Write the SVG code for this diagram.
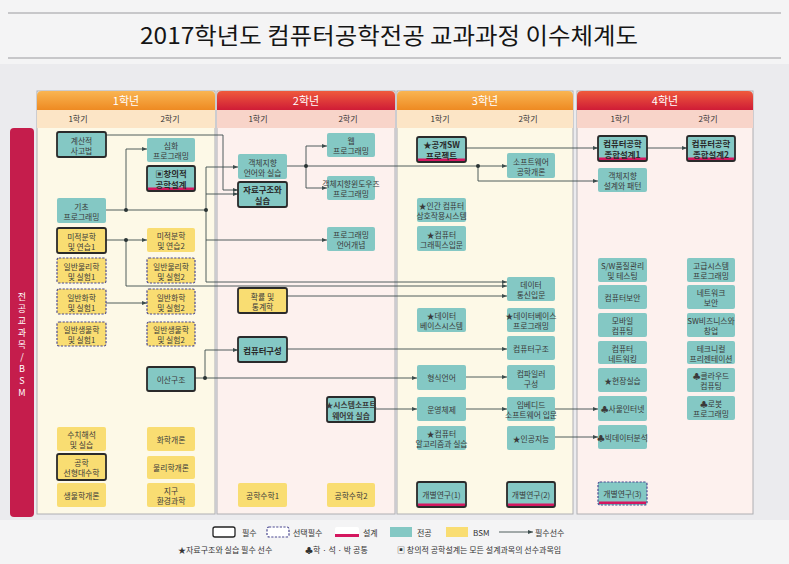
<svg xmlns="http://www.w3.org/2000/svg" width="789" height="564" viewBox="0 0 789 564">
<defs>
<linearGradient id="gOr" x1="0" y1="0" x2="0" y2="1"><stop offset="0" stop-color="#f9b552"/><stop offset="1" stop-color="#ee8a22"/></linearGradient>
<linearGradient id="gRd" x1="0" y1="0" x2="0" y2="1"><stop offset="0" stop-color="#ef5a3c"/><stop offset="1" stop-color="#cf1c36"/></linearGradient>
<marker id="ah" markerUnits="userSpaceOnUse" markerWidth="5" markerHeight="4" refX="5" refY="2" orient="auto"><path d="M0,0 L5,2 L0,4 Z" fill="#3c4d4d"/></marker>
<style>
.t{fill:#84c8c4}
.y{fill:#f9dd72}
.w{fill:#ffffff}
.r{stroke:#2a2a2a;stroke-width:1.8}
.s{stroke:#4a4890;stroke-width:1.2;stroke-dasharray:2.2 1.4}
.o{fill:none}
.d{fill:#d4175f}
text{font-family:"Noto Sans CJK KR","Noto Sans",sans-serif}
.n{font-size:7.8px;fill:#3a3a3a;text-anchor:middle;dominant-baseline:central}
.nb{font-size:8.4px;font-weight:700;fill:#2a2a2a}
.ys{font-size:11px;fill:#ffffff;text-anchor:middle}
.sm{font-size:8px;fill:#333;text-anchor:middle}
.lg{font-size:8px;fill:#333;dominant-baseline:central}
.cn{fill:none;stroke:#3c4d4d;stroke-width:0.9}
.dot{fill:#2a3434}
.sb{font-size:9px;fill:#ffffff;text-anchor:middle}
</style>
</defs>
<rect x="0" y="0" width="789" height="564" fill="#f4f4f5"/>
<rect x="0" y="64" width="789" height="456" fill="#ebebee"/>
<line x1="8" y1="13" x2="781" y2="13" stroke="#9a9a9e" stroke-width="1"/>
<line x1="8" y1="58" x2="781" y2="58" stroke="#9a9a9e" stroke-width="1"/>
<text x="389" y="44" font-size="23" fill="#151515" text-anchor="middle" textLength="498" lengthAdjust="spacingAndGlyphs">2017학년도 컴퓨터공학전공 교과과정 이수체계도</text>

<g id="sidebar">
<rect x="10" y="128" width="24" height="389" rx="4" fill="#c51d4c"/>
<text class="sb" x="22" y="300">전</text>
<text class="sb" x="22" y="312">공</text>
<text class="sb" x="22" y="324">교</text>
<text class="sb" x="22" y="336">과</text>
<text class="sb" x="22" y="348">목</text>
<text class="sb" x="22" y="360">/</text>
<text class="sb" x="22" y="372">B</text>
<text class="sb" x="22" y="384">S</text>
<text class="sb" x="22" y="396">M</text>
</g>

<g id="year1">
<rect x="37" y="91" width="178" height="423" fill="#fdf9e7" stroke="#aeaeb2"/>
<path d="M37,110 V96 Q37,91 42,91 H210 Q215,91 215,96 V110 Z" fill="url(#gOr)"/>
<rect x="37" y="110" width="178" height="18" fill="#fce5c6"/>
<text class="ys" x="126" y="105">1학년</text>
<text class="sm" x="78" y="122">1학기</text>
<text class="sm" x="170" y="122">2학기</text>
</g>
<g id="year2">
<rect x="217" y="91" width="178" height="423" fill="#fdf1ee" stroke="#aeaeb2"/>
<path d="M217,110 V96 Q217,91 222,91 H390 Q395,91 395,96 V110 Z" fill="url(#gRd)"/>
<rect x="217" y="110" width="178" height="18" fill="#f8d4c9"/>
<text class="ys" x="306" y="105">2학년</text>
<text class="sm" x="258" y="122">1학기</text>
<text class="sm" x="348" y="122">2학기</text>
</g>
<g id="year3">
<rect x="397" y="91" width="176" height="423" fill="#fdf9e7" stroke="#aeaeb2"/>
<path d="M397,110 V96 Q397,91 402,91 H568 Q573,91 573,96 V110 Z" fill="url(#gOr)"/>
<rect x="397" y="110" width="176" height="18" fill="#fce5c6"/>
<text class="ys" x="485" y="105">3학년</text>
<text class="sm" x="440" y="122">1학기</text>
<text class="sm" x="528" y="122">2학기</text>
</g>
<g id="year4">
<rect x="577" y="91" width="176" height="423" fill="#fdf1ee" stroke="#aeaeb2"/>
<path d="M577,110 V96 Q577,91 582,91 H748 Q753,91 753,96 V110 Z" fill="url(#gRd)"/>
<rect x="577" y="110" width="176" height="18" fill="#f8d4c9"/>
<text class="ys" x="665" y="105">4학년</text>
<text class="sm" x="620" y="122">1학기</text>
<text class="sm" x="708" y="122">2학기</text>
</g>

<g id="connectors">
<path class="cn" marker-end="url(#ah)" d="M106,135 H223 V190 H238"/>
<path class="cn" d="M106,210 H206"/>
<path class="cn" marker-end="url(#ah)" d="M126,210 V149 H147"/>
<path class="cn" marker-end="url(#ah)" d="M206,282 V167 H238"/>
<path class="cn" marker-end="url(#ah)" d="M206,194 H238"/>
<path class="cn" marker-end="url(#ah)" d="M206,240 H327"/>
<path class="cn" marker-end="url(#ah)" d="M206,282 H507"/>
<path class="cn" marker-end="url(#ah)" d="M106,240 H147"/>
<path class="cn" marker-end="url(#ah)" d="M126,240 V286 H507"/>
<path class="cn" marker-end="url(#ah)" d="M287,296 H507"/>
<path class="cn" marker-end="url(#ah)" d="M106,303 H147"/>
<path class="cn" marker-end="url(#ah)" d="M195,378 H417"/>
<path class="cn" marker-end="url(#ah)" d="M205,378 V350 H238"/>
<path class="cn" marker-end="url(#ah)" d="M287,349 H507"/>
<path class="cn" marker-end="url(#ah)" d="M466,377 H507"/>
<path class="cn" marker-end="url(#ah)" d="M375,409 H417"/>
<path class="cn" marker-end="url(#ah)" d="M466,409 H507"/>
<path class="cn" marker-end="url(#ah)" d="M555,409 H598"/>
<path class="cn" marker-end="url(#ah)" d="M555,437 H598"/>
<path class="cn" marker-end="url(#ah)" d="M287,166 H507"/>
<path class="cn" marker-end="url(#ah)" d="M306,166 V146 H327"/>
<path class="cn" marker-end="url(#ah)" d="M306,166 V188 H327"/>
<path class="cn" marker-end="url(#ah)" d="M478,166 V181 H598"/>
<path class="cn" marker-end="url(#ah)" d="M466,148 H598"/>
<path class="cn" marker-end="url(#ah)" d="M647,148 H687"/>
<circle class="dot" cx="126" cy="210" r="2"/>
<circle class="dot" cx="206" cy="210" r="2"/>
<circle class="dot" cx="126" cy="240" r="2"/>
<circle class="dot" cx="205" cy="378" r="2"/>
<circle class="dot" cx="306" cy="166" r="2"/>
<circle class="dot" cx="478" cy="166" r="2"/>
</g>

<g id="n1"><rect class="t r" x="57" y="132" width="49" height="25" rx="2"/><text class="n"><tspan x="81.5" y="139.5">계산적</tspan><tspan x="81.5" y="149.5">사고법</tspan></text></g>
<g id="n2"><rect class="t" x="147" y="138" width="48" height="24" rx="2"/><text class="n"><tspan x="171" y="145">심화</tspan><tspan x="171" y="155">프로그래밍</tspan></text></g>
<g id="n3"><rect class="t" x="147" y="166" width="48" height="25" rx="2"/><rect class="d" x="148" y="187.5" width="46" height="2.5"/><rect class="o r" x="147" y="166" width="48" height="25" rx="2"/><text class="n nb"><tspan x="171" y="173">▣창의적</tspan><tspan x="171" y="184">공학설계</tspan></text></g>
<g id="n4"><rect class="t" x="57" y="198" width="49" height="25" rx="2"/><text class="n"><tspan x="81.5" y="205.5">기초</tspan><tspan x="81.5" y="215.5">프로그래밍</tspan></text></g>
<g id="n5"><rect class="y r" x="57" y="228" width="49" height="25" rx="2"/><text class="n"><tspan x="81.5" y="235.5">미적분학</tspan><tspan x="81.5" y="245.5">및 연습1</tspan></text></g>
<g id="n6"><rect class="y" x="147" y="228" width="48" height="24" rx="2"/><text class="n"><tspan x="171" y="235">미적분학</tspan><tspan x="171" y="245">및 연습2</tspan></text></g>
<g id="n7"><rect class="y s" x="57" y="258" width="49" height="25" rx="2"/><text class="n"><tspan x="81.5" y="265.5">일반물리학</tspan><tspan x="81.5" y="275.5">및 실험1</tspan></text></g>
<g id="n8"><rect class="y s" x="147" y="258" width="48" height="25" rx="2"/><text class="n"><tspan x="171" y="265.5">일반물리학</tspan><tspan x="171" y="275.5">및 실험2</tspan></text></g>
<g id="n9"><rect class="y s" x="57" y="289" width="49" height="25" rx="2"/><text class="n"><tspan x="81.5" y="296.5">일반화학</tspan><tspan x="81.5" y="306.5">및 실험1</tspan></text></g>
<g id="n10"><rect class="y s" x="147" y="289" width="48" height="25" rx="2"/><text class="n"><tspan x="171" y="296.5">일반화학</tspan><tspan x="171" y="306.5">및 실험2</tspan></text></g>
<g id="n11"><rect class="y s" x="57" y="322" width="49" height="24" rx="2"/><text class="n"><tspan x="81.5" y="329">일반생물학</tspan><tspan x="81.5" y="339">및 실험1</tspan></text></g>
<g id="n12"><rect class="y s" x="147" y="322" width="48" height="24" rx="2"/><text class="n"><tspan x="171" y="329">일반생물학</tspan><tspan x="171" y="339">및 실험2</tspan></text></g>
<g id="n13"><rect class="t r" x="147" y="367" width="48" height="24" rx="2"/><text class="n" x="171" y="379">이산구조</text></g>
<g id="n14"><rect class="y" x="57" y="427" width="49" height="24" rx="2"/><text class="n"><tspan x="81.5" y="434">수치해석</tspan><tspan x="81.5" y="444">및 실습</tspan></text></g>
<g id="n15"><rect class="y r" x="57" y="454" width="49" height="26" rx="2"/><text class="n"><tspan x="81.5" y="462">공학</tspan><tspan x="81.5" y="472">선형대수학</tspan></text></g>
<g id="n16"><rect class="y" x="57" y="483" width="49" height="24" rx="2"/><text class="n" x="81.5" y="495">생물학개론</text></g>
<g id="n17"><rect class="y" x="147" y="427" width="48" height="24" rx="2"/><text class="n" x="171" y="439">화학개론</text></g>
<g id="n18"><rect class="y" x="147" y="456" width="48" height="23" rx="2"/><text class="n" x="171" y="467.5">물리학개론</text></g>
<g id="n19"><rect class="y" x="147" y="483" width="48" height="24" rx="2"/><text class="n"><tspan x="171" y="490">지구</tspan><tspan x="171" y="500">환경과학</tspan></text></g>

<g id="n20"><rect class="t" x="327" y="133" width="48" height="24" rx="2"/><text class="n"><tspan x="351" y="140">웹</tspan><tspan x="351" y="150">프로그래밍</tspan></text></g>
<g id="n21"><rect class="t" x="238" y="154" width="49" height="25" rx="2"/><text class="n"><tspan x="262.5" y="161.5">객체지향</tspan><tspan x="262.5" y="171.5">언어와 실습</tspan></text></g>
<g id="n22"><rect class="t r" x="238" y="182" width="49" height="25" rx="2"/><text class="n nb"><tspan x="262.5" y="189">자료구조와</tspan><tspan x="262.5" y="200">실습</tspan></text></g>
<g id="n23"><rect class="t" x="327" y="176" width="48" height="24" rx="2"/><text class="n" font-size="6.8"><tspan x="351" y="183">객체지향윈도우즈</tspan><tspan x="351" y="193">프로그래밍</tspan></text></g>
<g id="n24"><rect class="t" x="327" y="227" width="48" height="24" rx="2"/><text class="n"><tspan x="351" y="234">프로그래밍</tspan><tspan x="351" y="244">언어개념</tspan></text></g>
<g id="n25"><rect class="y r" x="238" y="288" width="49" height="25" rx="2"/><text class="n"><tspan x="262.5" y="295.5">확률 및</tspan><tspan x="262.5" y="305.5">통계학</tspan></text></g>
<g id="n26"><rect class="t r" x="238" y="337" width="49" height="25" rx="2"/><text class="n nb" font-size="9.5" x="262.5" y="349.5">컴퓨터구성</text></g>
<g id="n27"><rect class="t r" x="327" y="397" width="48" height="25" rx="2"/><text class="n" font-size="8.2" font-weight="700"><tspan x="351" y="404">★시스템소프트</tspan><tspan x="351" y="415">웨어와 실습</tspan></text></g>
<g id="n28"><rect class="y" x="238" y="483" width="49" height="24" rx="2"/><text class="n" x="262.5" y="495">공학수학1</text></g>
<g id="n29"><rect class="y" x="327" y="483" width="48" height="24" rx="2"/><text class="n" x="351" y="495">공학수학2</text></g>

<g id="n30"><rect class="t" x="417" y="137" width="49" height="25" rx="2"/><rect class="d" x="418" y="158.5" width="47" height="2.5"/><rect class="o r" x="417" y="137" width="49" height="25" rx="2"/><text class="n nb"><tspan x="441.5" y="144">★공개SW</tspan><tspan x="441.5" y="155">프로젝트</tspan></text></g>
<g id="n31"><rect class="t" x="507" y="153" width="48" height="25" rx="2"/><text class="n"><tspan x="531" y="160.5">소프트웨어</tspan><tspan x="531" y="170.5">공학개론</tspan></text></g>
<g id="n32"><rect class="t" x="417" y="198" width="49" height="24" rx="2"/><text class="n" font-size="7.2"><tspan x="441.5" y="205">★인간 컴퓨터</tspan><tspan x="441.5" y="215">상호작용시스템</tspan></text></g>
<g id="n33"><rect class="t" x="417" y="226" width="49" height="25" rx="2"/><text class="n"><tspan x="441.5" y="233.5">★컴퓨터</tspan><tspan x="441.5" y="243.5">그래픽스입문</tspan></text></g>
<g id="n34"><rect class="t" x="507" y="277" width="48" height="24" rx="2"/><text class="n"><tspan x="531" y="284">데이터</tspan><tspan x="531" y="294">통신입문</tspan></text></g>
<g id="n35"><rect class="t" x="417" y="308" width="49" height="24" rx="2"/><text class="n"><tspan x="441.5" y="315">★데이터</tspan><tspan x="441.5" y="325">베이스시스템</tspan></text></g>
<g id="n36"><rect class="t" x="507" y="308" width="48" height="24" rx="2"/><text class="n" font-size="7.2"><tspan x="531" y="315">★데이터베이스</tspan><tspan x="531" y="325">프로그래밍</tspan></text></g>
<g id="n37"><rect class="t" x="507" y="336" width="48" height="24" rx="2"/><text class="n" x="531" y="348">컴퓨터구조</text></g>
<g id="n38"><rect class="t" x="417" y="365" width="49" height="25" rx="2"/><text class="n" x="441.5" y="377.5">형식언어</text></g>
<g id="n39"><rect class="t" x="507" y="365" width="48" height="25" rx="2"/><text class="n"><tspan x="531" y="372.5">컴파일러</tspan><tspan x="531" y="382.5">구성</tspan></text></g>
<g id="n40"><rect class="t" x="417" y="397" width="49" height="24" rx="2"/><text class="n" x="441.5" y="409">운영체제</text></g>
<g id="n41"><rect class="t" x="507" y="397" width="48" height="24" rx="2"/><text class="n" font-size="7.4"><tspan x="531" y="404">임베디드</tspan><tspan x="531" y="414">소프트웨어 입문</tspan></text></g>
<g id="n42"><rect class="t" x="417" y="426" width="49" height="24" rx="2"/><text class="n" font-size="7.2"><tspan x="441.5" y="433">★컴퓨터</tspan><tspan x="441.5" y="443">알고리즘과 실습</tspan></text></g>
<g id="n43"><rect class="t" x="507" y="426" width="48" height="24" rx="2"/><text class="n" x="531" y="438">★인공지능</text></g>
<g id="n44"><rect class="t" x="417" y="482" width="49" height="25" rx="2"/><rect class="d" x="418" y="503.5" width="47" height="2.5"/><rect class="o r" x="417" y="482" width="49" height="25" rx="2"/><text class="n" x="441.5" y="494">개별연구(1)</text></g>
<g id="n45"><rect class="t" x="507" y="482" width="48" height="25" rx="2"/><rect class="d" x="508" y="503.5" width="46" height="2.5"/><rect class="o r" x="507" y="482" width="48" height="25" rx="2"/><text class="n" x="531" y="494">개별연구(2)</text></g>

<g id="n46"><rect class="t" x="598" y="136" width="49" height="25" rx="2"/><rect class="d" x="599" y="157.5" width="47" height="2.5"/><rect class="o r" x="598" y="136" width="49" height="25" rx="2"/><text class="n nb"><tspan x="622.5" y="143">컴퓨터공학</tspan><tspan x="622.5" y="154">종합설계1</tspan></text></g>
<g id="n47"><rect class="t" x="687" y="136" width="48" height="25" rx="2"/><rect class="d" x="688" y="157.5" width="46" height="2.5"/><rect class="o r" x="687" y="136" width="48" height="25" rx="2"/><text class="n nb"><tspan x="711" y="143">컴퓨터공학</tspan><tspan x="711" y="154">종합설계2</tspan></text></g>
<g id="n48"><rect class="t" x="598" y="168" width="49" height="24" rx="2"/><text class="n"><tspan x="622.5" y="175">객체지향</tspan><tspan x="622.5" y="185">설계와 패턴</tspan></text></g>
<g id="n49"><rect class="t" x="598" y="258" width="49" height="24" rx="2"/><text class="n" font-size="7.4"><tspan x="622.5" y="265">S/W품질관리</tspan><tspan x="622.5" y="275">및 테스팅</tspan></text></g>
<g id="n50"><rect class="t" x="687" y="258" width="48" height="24" rx="2"/><text class="n"><tspan x="711" y="265">고급시스템</tspan><tspan x="711" y="275">프로그래밍</tspan></text></g>
<g id="n51"><rect class="t" x="598" y="285" width="49" height="24" rx="2"/><text class="n" x="622.5" y="297">컴퓨터보안</text></g>
<g id="n52"><rect class="t" x="687" y="285" width="48" height="24" rx="2"/><text class="n"><tspan x="711" y="292">네트워크</tspan><tspan x="711" y="302">보안</tspan></text></g>
<g id="n53"><rect class="t" x="598" y="313" width="49" height="24" rx="2"/><text class="n"><tspan x="622.5" y="320">모바일</tspan><tspan x="622.5" y="330">컴퓨팅</tspan></text></g>
<g id="n54"><rect class="t" x="687" y="313" width="48" height="24" rx="2"/><text class="n" font-size="7.2"><tspan x="711" y="320">SW비즈니스와</tspan><tspan x="711" y="330">창업</tspan></text></g>
<g id="n55"><rect class="t" x="598" y="341" width="49" height="23" rx="2"/><text class="n"><tspan x="622.5" y="347.5">컴퓨터</tspan><tspan x="622.5" y="357.5">네트워킹</tspan></text></g>
<g id="n56"><rect class="t" x="687" y="341" width="48" height="23" rx="2"/><text class="n" font-size="7.4"><tspan x="711" y="347.5">테크니컬</tspan><tspan x="711" y="357.5">프리젠테이션</tspan></text></g>
<g id="n57"><rect class="t" x="598" y="368" width="49" height="24" rx="2"/><text class="n" x="622.5" y="380">★현장실습</text></g>
<g id="n58"><rect class="t" x="687" y="368" width="48" height="24" rx="2"/><text class="n"><tspan x="711" y="375">♣클라우드</tspan><tspan x="711" y="385">컴퓨팅</tspan></text></g>
<g id="n59"><rect class="t" x="598" y="396" width="49" height="25" rx="2"/><text class="n" x="622.5" y="408.5">♣사물인터넷</text></g>
<g id="n60"><rect class="t" x="687" y="396" width="48" height="24" rx="2"/><text class="n"><tspan x="711" y="403">♣로봇</tspan><tspan x="711" y="413">프로그래밍</tspan></text></g>
<g id="n61"><rect class="t" x="598" y="425" width="49" height="24" rx="2"/><text class="n" x="622.5" y="437">♣빅데이터분석</text></g>
<g id="n62"><rect class="t" x="598" y="482" width="49" height="23" rx="2"/><rect class="d" x="599" y="501.5" width="47" height="2.5"/><rect class="o s" x="598" y="482" width="49" height="23" rx="2"/><text class="n" x="622.5" y="493">개별연구(3)</text></g>

<g id="legend">
<rect x="213" y="527" width="22" height="10" rx="2" class="w" stroke="#222" stroke-width="1.3"/>
<text class="lg" x="242" y="532">필수</text>
<rect x="267" y="527" width="22" height="10" rx="2" class="w s"/>
<text class="lg" x="293" y="532">선택필수</text>
<rect x="335" y="527" width="24" height="10" rx="2" class="w"/>
<rect x="335" y="534" width="24" height="3" class="d"/>
<text class="lg" x="363" y="532">설계</text>
<rect x="390" y="527" width="22" height="10" class="t"/>
<text class="lg" x="417" y="532">전공</text>
<rect x="446" y="527" width="22" height="10" class="y"/>
<text class="lg" x="473" y="532">BSM</text>
<path class="cn" marker-end="url(#ah)" d="M499,532 H533"/>
<text class="lg" x="535" y="532">필수선수</text>
<text class="lg" x="178" y="549">★자료구조와 실습 필수 선수</text>
<text class="lg" x="305" y="549">♣학 · 석 · 박 공통</text>
<text class="lg" x="397" y="549">▣ 창의적 공학설계는 모든 설계과목의 선수과목임</text>
</g>
</svg>
